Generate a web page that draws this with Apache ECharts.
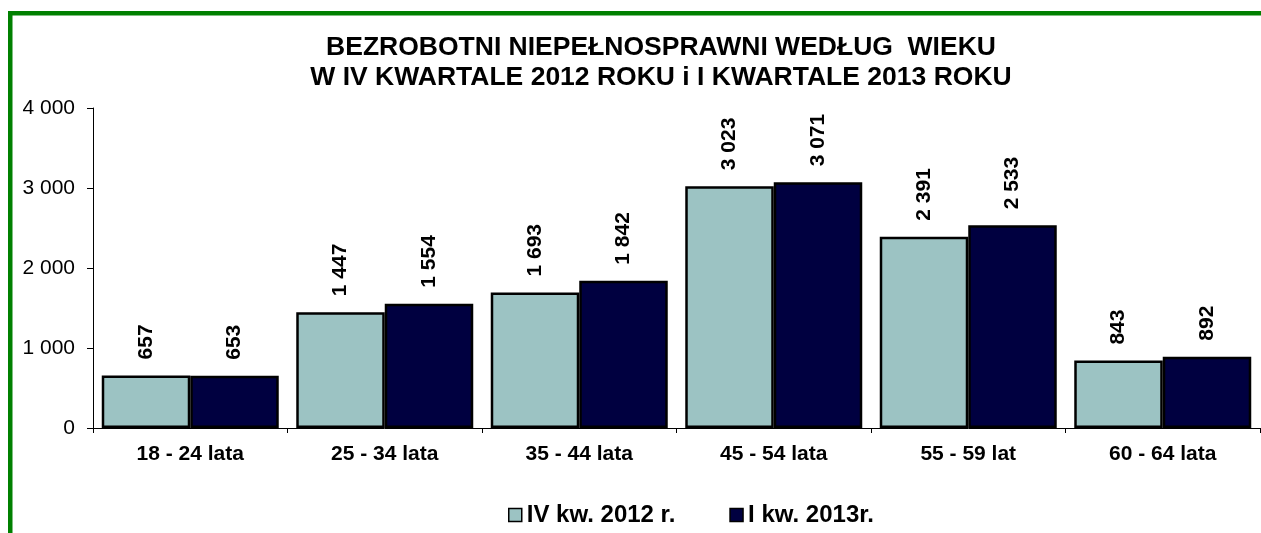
<!DOCTYPE html>
<html><head><meta charset="utf-8">
<script src="https://cdn.jsdelivr.net/npm/echarts@6/dist/echarts.min.js"></script>
<style>html,body{margin:0;padding:0;background:#fff}#c{width:1261px;height:533px}</style>
</head><body><div id="c"></div>
<script>
const categories = ['18 - 24 lata','25 - 34 lata','35 - 44 lata','45 - 54 lata','55 - 59 lat','60 - 64 lata'];
const series2012 = [657,1447,1693,3023,2391,843];
const series2013 = [653,1554,1842,3071,2533,892];
const seriesNames = ['IV kw. 2012 r.','I kw. 2013r.'];
const titleLines = ['BEZROBOTNI NIEPEŁNOSPRAWNI WEDŁUG  WIEKU','W IV KWARTALE 2012 ROKU i I KWARTALE 2013 ROKU'];
const yTicks = {min:0,max:4000,interval:1000};

const FONT = '"Liberation Sans", Arial, sans-serif';
const fmt = v => String(v).replace(/\B(?=(\d{3})+(?!\d))/g,' ');
const chart = echarts.init(document.getElementById('c'), null, {renderer:'canvas'});
const labelCfg = {
  show:true, position:'top', rotate:90, align:'left', verticalAlign:'middle', distance:16,
  formatter:p=>fmt(p.value), fontFamily:FONT, fontWeight:'bold', fontSize:21, color:'#000'
};
chart.setOption({
  animation:false,
  backgroundColor:'#fff',
  title:{
    text:titleLines.join('\n'), left:656, top:27, textAlign:'center',
    textStyle:{fontFamily:FONT,fontWeight:'bold',fontSize:26.5,lineHeight:30.5,color:'#000'}
  },
  legend:{
    data:seriesNames, left:503, top:496, itemWidth:13, itemHeight:13, itemGap:54, icon:'rect',
    textStyle:{fontFamily:FONT,fontWeight:'bold',fontSize:24,lineHeight:28,color:'#000'},
    itemStyle:{borderColor:'#000',borderWidth:1.5}
  },
  grid:{left:93,right:1,top:108,bottom:105,containLabel:false},
  xAxis:{
    type:'category', data:categories,
    axisLine:{lineStyle:{color:'#000',width:1}},
    axisTick:{show:true,length:5,lineStyle:{color:'#000'},alignWithLabel:false},
    axisLabel:{margin:16,fontFamily:FONT,fontWeight:'bold',fontSize:21,color:'#000'}
  },
  yAxis:{
    type:'value', min:yTicks.min, max:yTicks.max, interval:yTicks.interval,
    axisLine:{show:true,lineStyle:{color:'#000',width:1}},
    axisTick:{show:true,length:6,lineStyle:{color:'#000'}},
    splitLine:{show:false},
    axisLabel:{margin:18,formatter:v=>fmt(v),fontFamily:FONT,fontSize:21,color:'#000'}
  },
  series:[
    {name:seriesNames[0],type:'bar',data:series2012,barGap:'0%',barCategoryGap:'9%',
     itemStyle:{color:'#9CC3C3',borderColor:'#000',borderWidth:2.5},label:labelCfg},
    {name:seriesNames[1],type:'bar',data:series2013,
     itemStyle:{color:'#000040',borderColor:'#000',borderWidth:2.5},label:labelCfg}
  ],
  graphic:[
    {type:'rect',shape:{x:8,y:11,width:4.5,height:540},style:{fill:'#008000'},silent:true},
    {type:'rect',shape:{x:8,y:11,width:1260,height:4.5},style:{fill:'#008000'},silent:true}
  ]
});
</script></body></html>
